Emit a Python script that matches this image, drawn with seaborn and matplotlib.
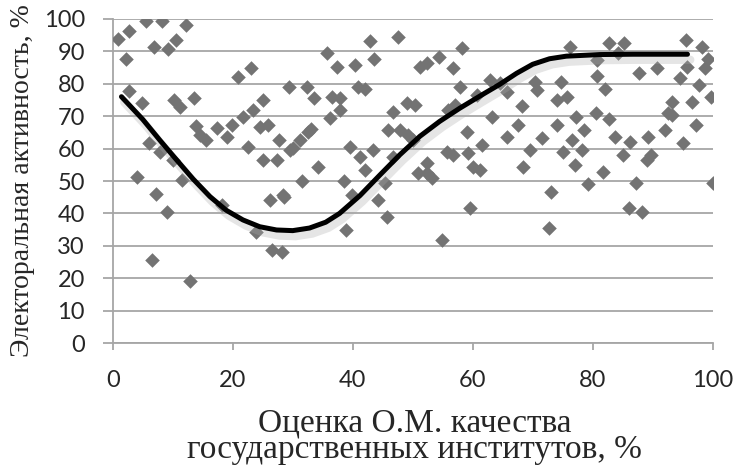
import seaborn as sns
import matplotlib.pyplot as plt
import matplotlib.patheffects as pe
import pandas as pd

# scatter points: (оценка, активность)
quality = [0.9, 2.7, 5.6, 8.2, 12.2, 2.2, 6.8, 9.2, 10.6, 2.7, 4.8, 10.2, 11.2, 13.5, 20.8, 23.0, 29.3,
           13.8, 14.5, 15.6, 17.3, 19.0, 19.8, 21.7, 23.3, 25.0, 22.5, 24.5, 25.8, 27.7, 29.5, 25.0, 27.3,
           6.0, 7.8, 10.0, 4.0, 11.5, 7.2, 9.0, 6.5, 12.8, 18.2, 23.8, 26.2, 28.5, 26.5, 28.2, 31.5,
           42.8, 47.5, 35.7, 37.3, 40.3, 43.5, 32.3, 33.5, 36.5, 37.8, 40.8, 42.0, 37.8, 36.2, 30.0, 31.2,
           32.5, 33.0, 39.5, 41.2, 43.3, 42.0, 34.2, 38.5, 46.7, 45.8, 46.7, 49.0, 50.3, 47.8, 49.2, 50.0,
           51.2, 52.3, 54.3, 58.2, 56.7, 57.8, 60.7, 62.8, 64.5, 55.8, 57.0, 63.2, 59.0, 65.7, 55.7, 56.7,
           59.2, 61.5, 60.0, 61.2, 52.3, 28.3, 39.8, 44.2, 45.7, 38.8, 50.8, 52.3, 53.2, 59.5, 54.8, 45.3,
           95.5, 98.2, 99.2, 98.7, 95.7, 94.5, 97.7, 99.7, 96.5, 93.3, 92.5, 93.3, 97.3, 92.0, 95.0, 90.8,
           87.7, 85.3, 82.7, 84.2, 80.8, 80.7, 82.0, 76.2, 74.8, 70.3, 70.7, 75.8, 74.0, 65.7, 68.2, 67.5,
           69.5, 71.5, 74.0, 77.3, 78.5, 76.5, 75.0, 78.2, 80.5, 82.8, 83.7, 86.3, 89.3, 85.0, 89.0, 89.8,
           68.3, 77.0, 81.7, 100.0, 79.3, 87.3, 73.0, 86.0, 88.3, 72.7]
activity = [93.8, 96.3, 99.4, 99.4, 98.1, 87.6, 91.4, 90.7, 93.5, 77.8, 74.1, 75.0, 72.9, 75.6, 82.1, 84.8, 79.0,
            67.0, 64.2, 62.6, 66.3, 63.6, 67.3, 69.8, 71.9, 75.0, 60.5, 66.7, 67.3, 62.6, 59.6, 56.5, 56.5,
            61.7, 59.0, 56.5, 51.2, 50.3, 46.0, 40.4, 25.6, 19.1, 42.6, 34.3, 44.1, 45.1, 28.7, 28.1, 50.0,
            93.2, 94.4, 89.5, 85.2, 85.8, 87.6, 79.0, 75.6, 75.9, 75.6, 79.0, 78.4, 71.9, 69.4, 60.2, 62.6,
            65.1, 66.0, 60.5, 57.4, 59.6, 53.4, 54.3, 50.0, 57.4, 65.7, 71.3, 74.1, 73.5, 65.7, 64.2, 62.6,
            85.2, 86.4, 88.3, 91.0, 84.9, 79.0, 76.5, 81.2, 80.2, 71.9, 73.5, 69.8, 65.1, 63.6, 59.0, 58.0,
            58.6, 61.1, 54.3, 53.4, 55.6, 45.7, 45.7, 44.1, 38.9, 34.9, 52.5, 52.5, 50.9, 41.7, 31.8, 49.4,
            93.5, 91.4, 87.6, 84.9, 85.2, 81.8, 79.6, 76.0, 74.4, 74.4, 71.0, 70.4, 67.3, 65.7, 61.7, 84.9,
            83.3, 92.6, 92.6, 89.5, 87.3, 82.4, 78.4, 91.4, 80.6, 80.6, 78.1, 75.9, 75.0, 77.5, 73.2, 67.3,
            59.6, 63.3, 67.3, 69.8, 65.7, 62.6, 59.0, 59.6, 71.0, 69.1, 63.6, 62.0, 63.6, 58.0, 56.5, 58.0,
            54.3, 54.9, 52.8, 49.5, 49.0, 49.4, 46.6, 41.7, 40.4, 35.5]

# trend line
trend_x = [1.45, 5.0, 7.8, 10.6, 13.4, 16.2, 18.9, 21.7, 24.5, 27.3, 30.0, 32.8, 35.5, 37.8, 41.2,
           44.5, 47.8, 51.2, 54.5, 57.8, 61.2, 64.5, 67.3, 70.0, 72.8, 75.6, 81.2, 86.7, 95.8]
trend_y = [76.0, 69.0, 62.7, 56.6, 50.6, 45.2, 41.0, 38.0, 35.9, 34.9, 34.7, 35.5, 37.3, 40.0, 45.5,
           51.8, 58.0, 63.8, 68.4, 72.4, 76.2, 79.8, 83.2, 86.0, 87.7, 88.5, 89.0, 89.1, 89.1]

x_ticks = [0, 20, 40, 60, 80, 100]
y_ticks = [0, 10, 20, 30, 40, 50, 60, 70, 80, 90, 100]

df = pd.DataFrame({'quality': quality, 'activity': activity})
trend = pd.DataFrame({'x': trend_x, 'y': trend_y})

sns.set_style('white')
grid_col = '#a6a6a6'

fig = plt.figure(figsize=(7.37, 4.72), dpi=100)
ax = fig.add_axes([0.153, 0.273, 0.814, 0.687])

sns.scatterplot(data=df, x='quality', y='activity', marker='D', s=55, color='#737373',
                linewidth=0, ax=ax, zorder=3)
sns.lineplot(data=trend, x='x', y='y', sort=False, estimator=None, color='black', lw=3.6, ax=ax,
             zorder=4,
             path_effects=[pe.SimpleLineShadow(offset=(2, -4), shadow_color='#aaaaaa', alpha=0.3, linewidth=6),
                           pe.Normal()])

ax.set_xlim(0, 100)
ax.set_ylim(0, 100)
ax.set_xticks(x_ticks)
ax.set_yticks(y_ticks)
ax.yaxis.grid(True, color=grid_col, lw=1.3, zorder=0)
ax.set_axisbelow(True)
for s in ['top', 'right']:
    ax.spines[s].set_visible(False)
for s in ['left', 'bottom']:
    ax.spines[s].set_color(grid_col)
    ax.spines[s].set_linewidth(1.3)
ax.tick_params(axis='y', length=7, width=1.3, color=grid_col, pad=13, left=True)
ax.tick_params(axis='x', length=5, width=1.3, color=grid_col, pad=14, bottom=True)
for lab in ax.get_xticklabels() + ax.get_yticklabels():
    lab.set_family('Lato')
    lab.set_fontsize(17)

ax.set_xlabel('Оценка О.М. качества\nгосударственных институтов, %', fontsize=24,
              family='Liberation Serif', linespacing=0.85)
ax.xaxis.set_label_coords(0.503, -0.20)
ax.xaxis.label.set_va('top')
ax.set_ylabel('Электоральная активность, %', fontsize=20, family='Liberation Serif')
ax.yaxis.set_label_coords(-0.13, 0.5)

fig.savefig('out.png', dpi=100)
